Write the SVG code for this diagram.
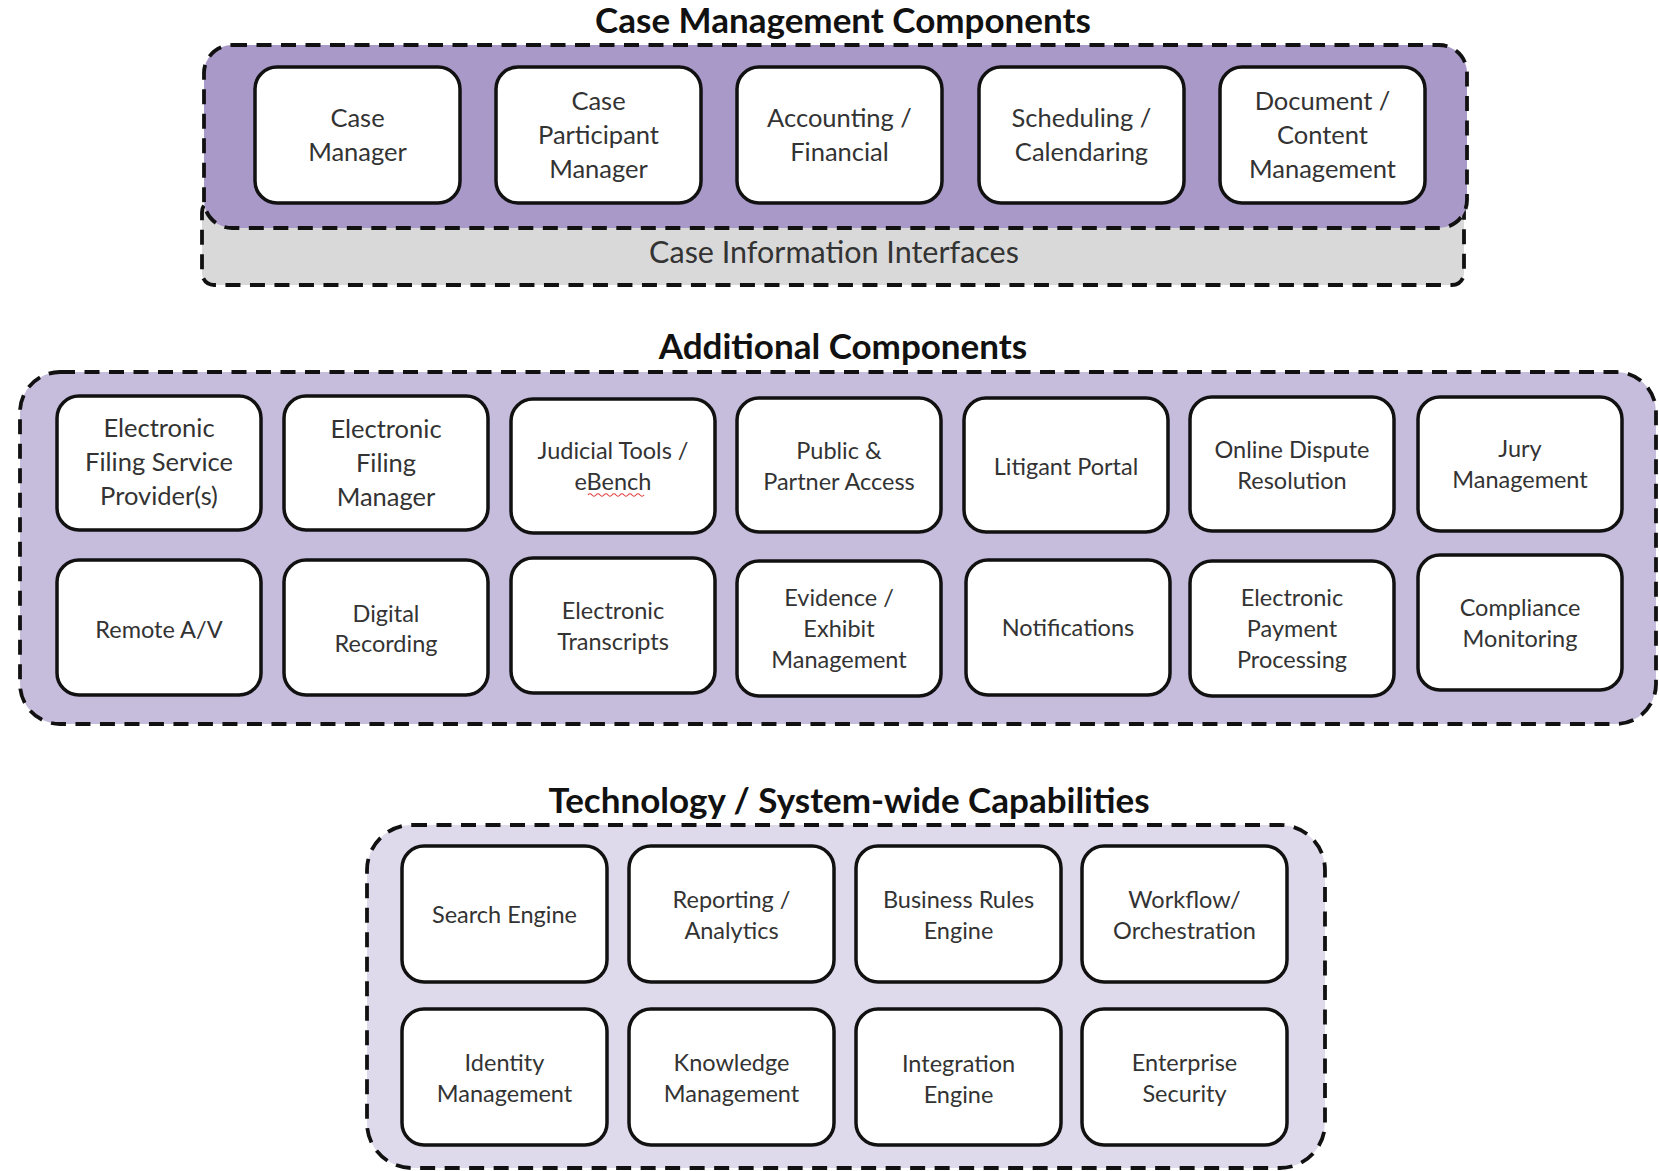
<svg xmlns="http://www.w3.org/2000/svg" width="1659" height="1171" viewBox="0 0 1659 1171">
<style>
.title{font-family:Lato,"Liberation Sans",sans-serif;font-weight:bold;font-size:35px;fill:#111;text-anchor:middle}
.grp{stroke:#111;stroke-width:3.8;stroke-dasharray:15 9.5}
.node rect{fill:#fff;stroke:#111;stroke-width:3.5}
.node text{font-family:Lato,"Liberation Sans",sans-serif;fill:#333;text-anchor:middle}
.lg{font-size:25.5px}
.sm{font-size:23.5px}
.cii{font-family:Lato,"Liberation Sans",sans-serif;font-size:30.5px;fill:#333;text-anchor:middle}
</style>
<rect width="1659" height="1171" fill="#fff"/>

<!-- Section 1 -->
<g id="case-management">
<text class="title" x="843" y="33">Case Management Components</text>
<rect id="case-info-interfaces" class="grp" x="202" y="200" width="1262" height="85" rx="12" fill="#d9d9d9"/>
<text class="cii" x="834" y="263">Case Information Interfaces</text>
<rect class="grp" x="204" y="45" width="1263" height="183" rx="28" fill="#a899c8"/>
</g>

<g id="n-case-manager" class="node"><rect x="255" y="67" width="205" height="136" rx="22"/><text class="lg"><tspan x="357.5" y="127">Case</tspan><tspan x="357.5" y="161">Manager</tspan></text></g>
<g id="n-case-participant" class="node"><rect x="496" y="67" width="205" height="136" rx="22"/><text class="lg"><tspan x="598.5" y="110">Case</tspan><tspan x="598.5" y="144">Participant</tspan><tspan x="598.5" y="178">Manager</tspan></text></g>
<g id="n-accounting" class="node"><rect x="737" y="67" width="205" height="136" rx="22"/><text class="lg"><tspan x="839.5" y="127">Accounting /</tspan><tspan x="839.5" y="161">Financial</tspan></text></g>
<g id="n-scheduling" class="node"><rect x="979" y="67" width="205" height="136" rx="22"/><text class="lg"><tspan x="1081.5" y="127">Scheduling /</tspan><tspan x="1081.5" y="161">Calendaring</tspan></text></g>
<g id="n-document" class="node"><rect x="1220" y="67" width="205" height="136" rx="22"/><text class="lg"><tspan x="1322.5" y="110">Document /</tspan><tspan x="1322.5" y="144">Content</tspan><tspan x="1322.5" y="178">Management</tspan></text></g>

<!-- Section 2 -->
<g id="additional">
<text class="title" x="843" y="359">Additional Components</text>
<rect class="grp" x="20" y="372" width="1636" height="352" rx="40" fill="#c6bcdc"/>
</g>

<g id="n-efsp" class="node"><rect x="57" y="396" width="204" height="134" rx="22"/><text class="lg"><tspan x="159" y="437">Electronic</tspan><tspan x="159" y="471">Filing Service</tspan><tspan x="159" y="505">Provider(s)</tspan></text></g>
<g id="n-efm" class="node"><rect x="284" y="396" width="204" height="134" rx="22"/><text class="lg"><tspan x="386" y="438">Electronic</tspan><tspan x="386" y="472">Filing</tspan><tspan x="386" y="506">Manager</tspan></text></g>
<g id="n-judicial" class="node"><rect x="511" y="399" width="204" height="134" rx="22"/><text class="sm"><tspan x="613" y="459">Judicial Tools /</tspan><tspan x="613" y="490">eBench</tspan></text><path d="M588 495 q2 -2.5 4 0 t4 0 t4 0 t4 0 t4 0 t4 0 t4 0 t4 0 t4 0 t4 0 t4 0 t4 0 t4 0 t4 0" fill="none" stroke="#e04040" stroke-width="1.2"/></g>
<g id="n-public" class="node"><rect x="737" y="398" width="204" height="134" rx="22"/><text class="sm"><tspan x="839" y="459">Public &amp;</tspan><tspan x="839" y="490">Partner Access</tspan></text></g>
<g id="n-litigant" class="node"><rect x="964" y="398" width="204" height="134" rx="22"/><text class="sm"><tspan x="1066" y="475">Litigant Portal</tspan></text></g>
<g id="n-odr" class="node"><rect x="1190" y="397" width="204" height="134" rx="22"/><text class="sm"><tspan x="1292" y="458">Online Dispute</tspan><tspan x="1292" y="489">Resolution</tspan></text></g>
<g id="n-jury" class="node"><rect x="1418" y="397" width="204" height="134" rx="22"/><text class="sm"><tspan x="1520" y="457">Jury</tspan><tspan x="1520" y="488">Management</tspan></text></g>

<g id="n-remote" class="node"><rect x="57" y="560" width="204" height="135" rx="22"/><text class="sm"><tspan x="159" y="638">Remote A/V</tspan></text></g>
<g id="n-digital" class="node"><rect x="284" y="560" width="204" height="135" rx="22"/><text class="sm"><tspan x="386" y="622">Digital</tspan><tspan x="386" y="652">Recording</tspan></text></g>
<g id="n-transcripts" class="node"><rect x="511" y="558" width="204" height="135" rx="22"/><text class="sm"><tspan x="613" y="619">Electronic</tspan><tspan x="613" y="650">Transcripts</tspan></text></g>
<g id="n-evidence" class="node"><rect x="737" y="561" width="204" height="135" rx="22"/><text class="sm"><tspan x="839" y="606">Evidence /</tspan><tspan x="839" y="637">Exhibit</tspan><tspan x="839" y="668">Management</tspan></text></g>
<g id="n-notifications" class="node"><rect x="966" y="560" width="204" height="135" rx="22"/><text class="sm"><tspan x="1068" y="636">Notifications</tspan></text></g>
<g id="n-payment" class="node"><rect x="1190" y="561" width="204" height="135" rx="22"/><text class="sm"><tspan x="1292" y="606">Electronic</tspan><tspan x="1292" y="637">Payment</tspan><tspan x="1292" y="668">Processing</tspan></text></g>
<g id="n-compliance" class="node"><rect x="1418" y="555" width="204" height="135" rx="22"/><text class="sm"><tspan x="1520" y="616">Compliance</tspan><tspan x="1520" y="647">Monitoring</tspan></text></g>

<!-- Section 3 -->
<g id="technology">
<text class="title" x="849" y="813">Technology / System-wide Capabilities</text>
<rect class="grp" x="367" y="825" width="958" height="343" rx="45" fill="#dedaeb"/>
</g>

<g id="n-search" class="node"><rect x="402" y="846" width="205" height="136" rx="22"/><text class="sm"><tspan x="504.5" y="923">Search Engine</tspan></text></g>
<g id="n-reporting" class="node"><rect x="629" y="846" width="205" height="136" rx="22"/><text class="sm"><tspan x="731.5" y="908">Reporting /</tspan><tspan x="731.5" y="939">Analytics</tspan></text></g>
<g id="n-rules" class="node"><rect x="856" y="846" width="205" height="136" rx="22"/><text class="sm"><tspan x="958.5" y="908">Business Rules</tspan><tspan x="958.5" y="939">Engine</tspan></text></g>
<g id="n-workflow" class="node"><rect x="1082" y="846" width="205" height="136" rx="22"/><text class="sm"><tspan x="1184.5" y="908">Workflow/</tspan><tspan x="1184.5" y="939">Orchestration</tspan></text></g>
<g id="n-identity" class="node"><rect x="402" y="1009" width="205" height="136" rx="22"/><text class="sm"><tspan x="504.5" y="1071">Identity</tspan><tspan x="504.5" y="1102">Management</tspan></text></g>
<g id="n-knowledge" class="node"><rect x="629" y="1009" width="205" height="136" rx="22"/><text class="sm"><tspan x="731.5" y="1071">Knowledge</tspan><tspan x="731.5" y="1102">Management</tspan></text></g>
<g id="n-integration" class="node"><rect x="856" y="1009" width="205" height="136" rx="22"/><text class="sm"><tspan x="958.5" y="1072">Integration</tspan><tspan x="958.5" y="1103">Engine</tspan></text></g>
<g id="n-security" class="node"><rect x="1082" y="1009" width="205" height="136" rx="22"/><text class="sm"><tspan x="1184.5" y="1071">Enterprise</tspan><tspan x="1184.5" y="1102">Security</tspan></text></g>

<g id="connectors"></g>
</svg>
